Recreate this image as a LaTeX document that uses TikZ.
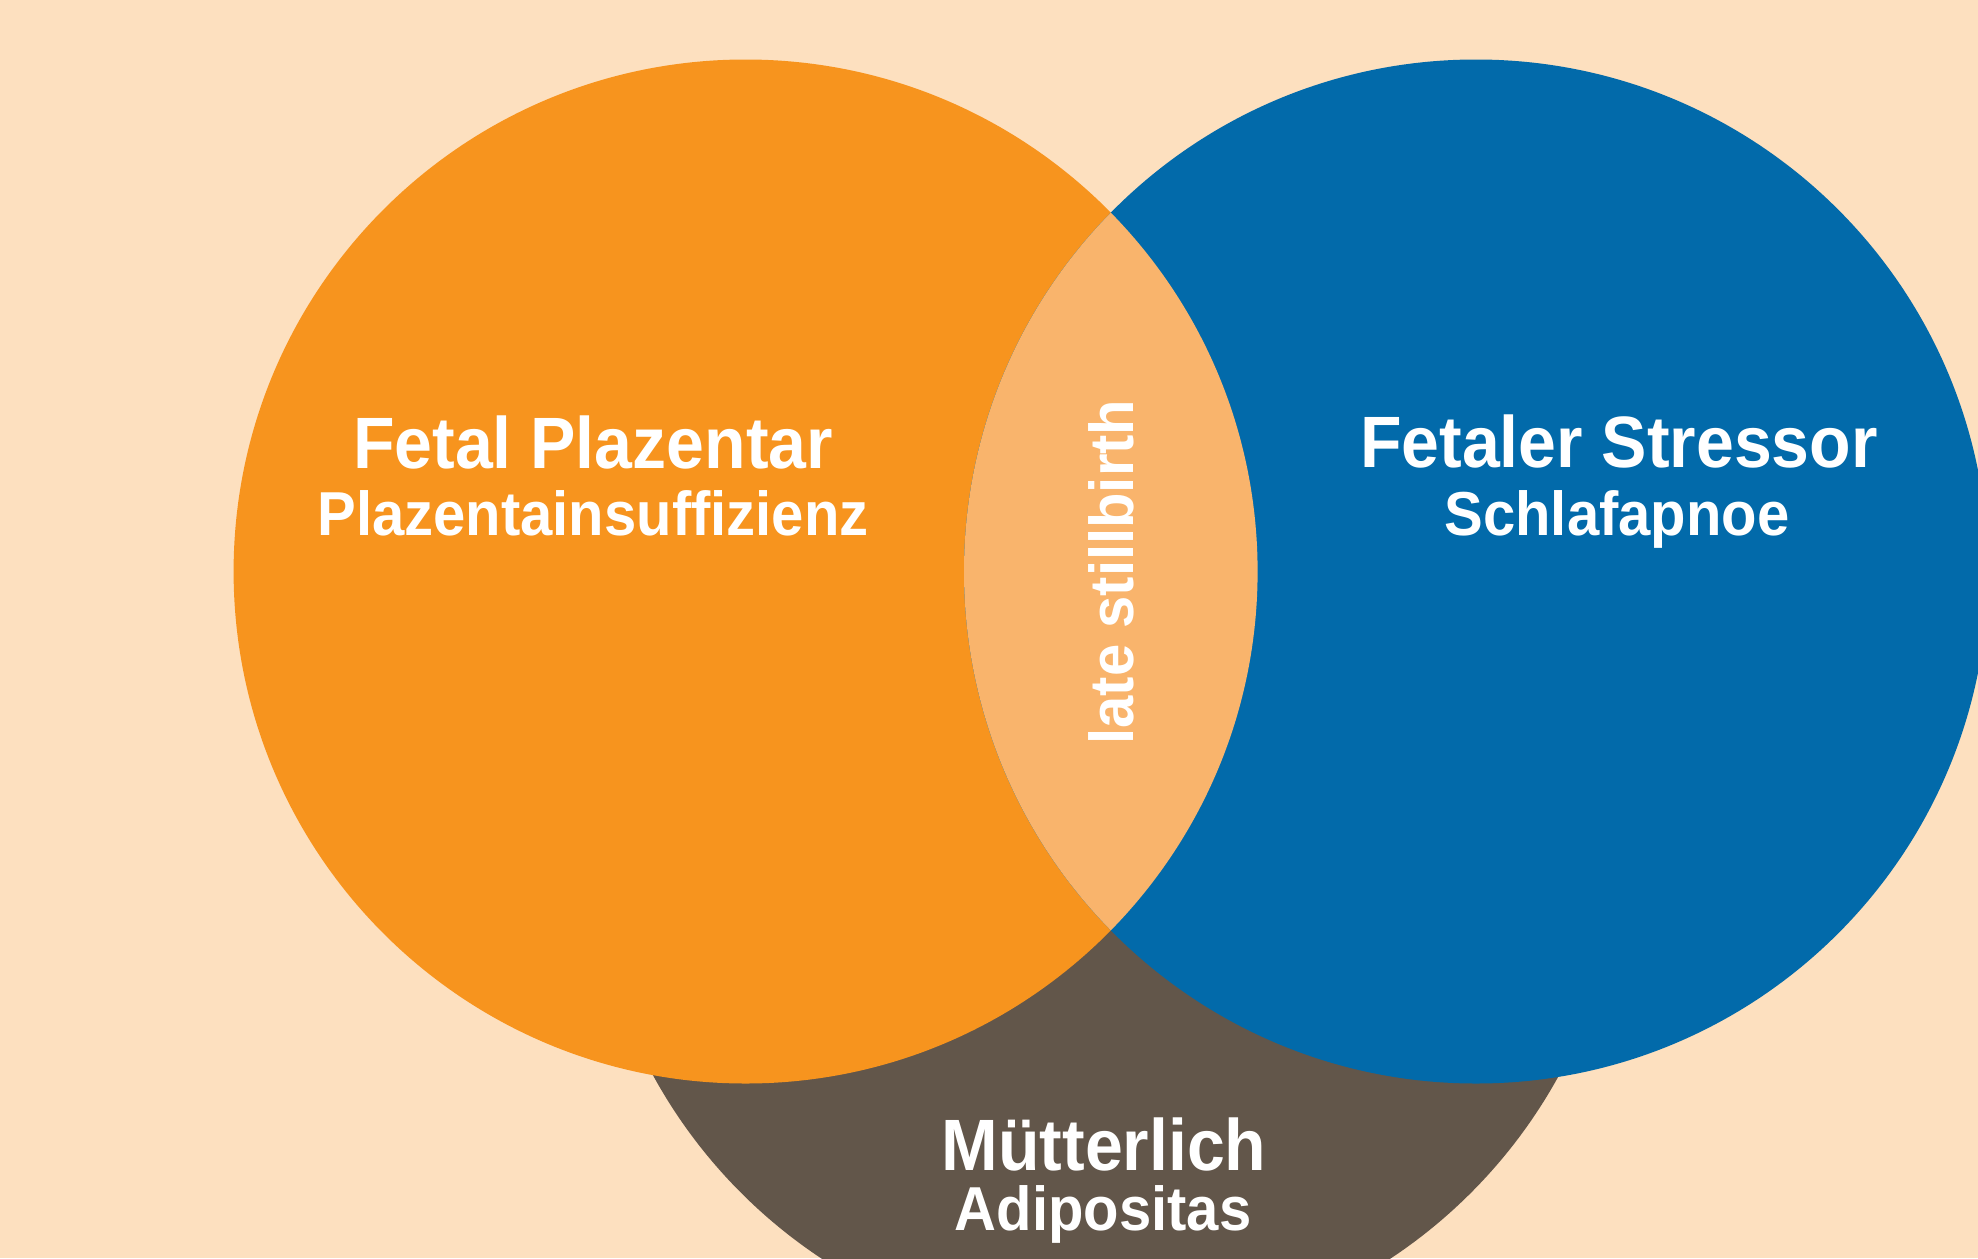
\documentclass[tikz,border=0pt]{standalone}
\usepackage{fontspec}
\usepackage{graphicx}
\setmainfont{Liberation Sans}
\definecolor{bgpeach}{RGB}{253,224,191}
\definecolor{vorange}{RGB}{247,148,30}
\definecolor{vblue}{RGB}{2,106,170}
\definecolor{vbrown}{RGB}{98,86,74}
\definecolor{vlens}{RGB}{249,180,108}
\newcommand{\tallstr}[1]{\scalebox{1}[1.07]{#1}}
\tikzset{
  title/.style={text=white, inner sep=0pt, anchor=base, font=\bfseries\fontsize{68}{68}\selectfont},
  subtitle/.style={text=white, inner sep=0pt, anchor=base, font=\bfseries\fontsize{58}{58}\selectfont},
}
\begin{document}
\begin{tikzpicture}[x=1pt,y=-1pt]
  \useasboundingbox (0,0) rectangle (1978,1258);
  \clip (0,0) rectangle (1978,1258);
  \fill[bgpeach] (0,0) rectangle (1978,1258);
  \coordinate (co) at (745.6,571.5);
  \coordinate (cb) at (1476,571.5);
  \coordinate (cm) at (1106,828);
  \fill[vbrown] (cm) circle[radius=516pt];
  \fill[vorange] (co) circle[radius=512pt];
  \fill[vblue] (cb) circle[radius=512pt];
  \begin{scope}
    \clip (co) circle[radius=512pt];
    \fill[vlens] (cb) circle[radius=512pt];
  \end{scope}
  \node[title] (t1) at (593,468) {\tallstr{Fetal Plazentar}};
  \node[subtitle] (s1) at (593,535) {\tallstr{Plazentainsuffizienz}};
  \node[title] (t2) at (1619,467) {\tallstr{Fetaler Stressor}};
  \node[subtitle] (s2) at (1617,535) {\tallstr{Schlafapnoe}};
  \node[title] (t3) at (1104,1170) {\tallstr{Mütterlich}};
  \node[subtitle] (s3) at (1103,1230) {\tallstr{Adipositas}};
  \node[subtitle, rotate=90] (ls) at (1133,572) {\tallstr{late stillbirth}};
\end{tikzpicture}
\end{document}
